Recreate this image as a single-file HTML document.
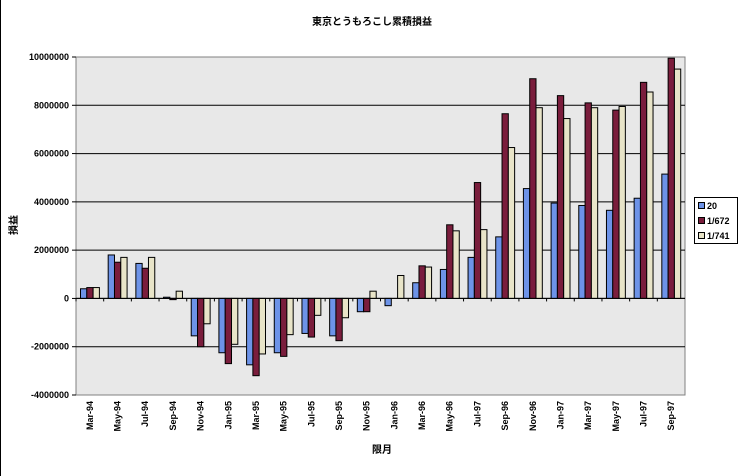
<!DOCTYPE html>
<html><head><meta charset="utf-8"><style>
html,body{margin:0;padding:0;background:#fff;width:743px;height:476px;overflow:hidden}
text{font-family:"Liberation Sans","Noto Sans CJK JP",sans-serif}
</style></head><body>
<svg id="c" width="743" height="476" xmlns="http://www.w3.org/2000/svg">
<rect x="0" y="0" width="743" height="476" fill="#fff"/>
<line x1="0.5" y1="0" x2="0.5" y2="476" stroke="#000" stroke-width="1"/>
<text x="372" y="25" font-size="10" text-anchor="middle" font-weight="bold">東京とうもろこし累積損益</text>
<rect x="76" y="57" width="609" height="338" fill="#e8e8e8" stroke="#808080" stroke-width="1"/>
<g id="g"></g>
<text transform="translate(17,225) rotate(-90)" font-size="10" font-weight="bold" text-anchor="middle">損益</text>
<text x="382" y="453" font-size="10" font-weight="bold" text-anchor="middle">限月</text>
<rect x="694.5" y="197.5" width="43" height="46" fill="#fff" stroke="#000"/>
<rect x="698.5" y="202.5" width="6" height="6" fill="#6d93e8" stroke="#000"/>
<text x="707" y="209" font-size="9" font-weight="bold">20</text>
<rect x="698.5" y="217.5" width="6" height="6" fill="#7a1d3c" stroke="#000"/>
<text x="707" y="224" font-size="9" font-weight="bold">1/672</text>
<rect x="698.5" y="232.5" width="6" height="6" fill="#e8e4c8" stroke="#000"/>
<text x="707" y="239" font-size="9" font-weight="bold">1/741</text>
</svg>
<script>
(function(){
var g=document.getElementById('g'),h='';
var T=57,B=395,ppm=(B-T)/14,z=T+10*ppm,L=76,R=685;
for(var v=-4;v<=10;v+=2){var y=z-v*ppm;
 if(v>-4&&v<10)h+='<line x1="'+L+'" x2="'+R+'" y1="'+y+'" y2="'+y+'" stroke="#000"/>';
 h+='<line x1="'+(L-4)+'" x2="'+L+'" y1="'+y+'" y2="'+y+'" stroke="#000"/>';
 h+='<text x="'+(L-7)+'" y="'+(y+3)+'" font-size="9" font-weight="bold" text-anchor="end">'+(v*1000000)+'</text>';}
var labs=["Mar-94","May-94","Jul-94","Sep-94","Nov-94","Jan-95","Mar-95","May-95","Jul-95","Sep-95","Nov-95","Jan-96","Mar-96","May-96","Jul-97","Sep-96","Nov-96","Jan-97","Mar-97","May-97","Jul-97","Sep-97"];
var d=[[.4,.45,.45],[1.8,1.5,1.7],[1.45,1.25,1.7],[.05,-.05,.3],[-1.55,-2,-1.05],[-2.25,-2.7,-1.9],[-2.75,-3.2,-2.3],[-2.25,-2.4,-1.5],[-1.45,-1.6,-.7],[-1.55,-1.75,-.8],[-.55,-.55,.3],[-.3,0,.95],[.65,1.35,1.3],[1.2,3.05,2.8],[1.7,4.8,2.85],[2.55,7.65,6.25],[4.55,9.1,7.9],[3.95,8.4,7.45],[3.85,8.1,7.9],[3.65,7.8,7.95],[4.15,8.95,8.55],[5.15,9.95,9.5]];
var cols=["#6d93e8","#7a1d3c","#e8e4c8"],cw=(R-L)/22;
for(var i=0;i<22;i++){var x0=L+i*cw;
 h+='<line x1="'+x0+'" x2="'+x0+'" y1="'+z+'" y2="'+(z+3)+'" stroke="#000"/>';
 for(var s=0;s<3;s++){var val=d[i][s];if(val==0)continue;var bx=x0+4.5+s*6.3,y1=z-Math.max(val,0)*ppm,hh=Math.abs(val)*ppm;
  h+='<rect x="'+bx+'" y="'+y1+'" width="6.3" height="'+hh+'" fill="'+cols[s]+'" stroke="#000" stroke-width="1"/>';}
 var cx=x0+cw/2+3;
 h+='<text transform="translate('+cx+',401) rotate(-90)" font-size="9" font-weight="bold" text-anchor="end">'+labs[i]+'</text>';}
h+='<line x1="'+L+'" x2="'+R+'" y1="'+z+'" y2="'+z+'" stroke="#000"/>';
g.innerHTML=h;
})();
</script>
</body></html>
